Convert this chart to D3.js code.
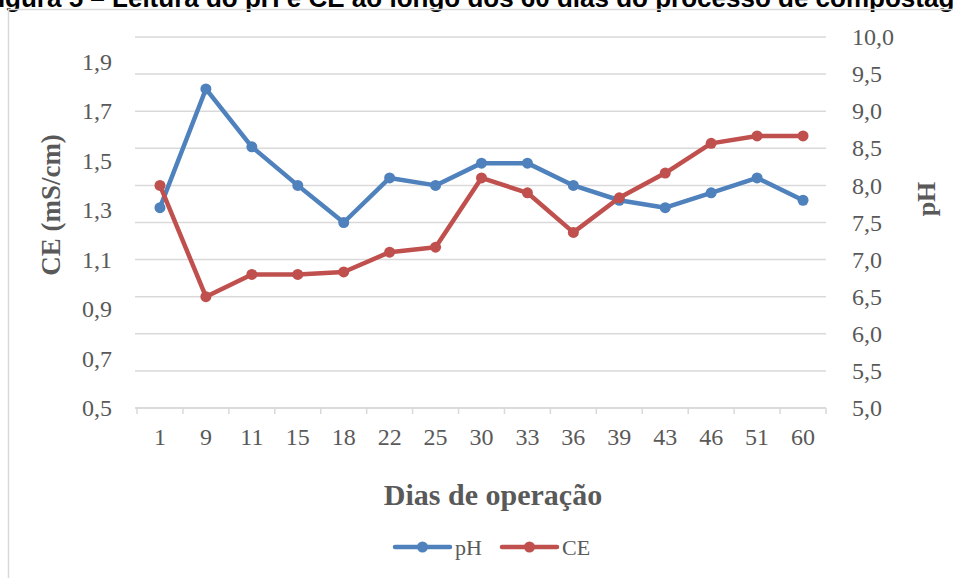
<!DOCTYPE html>
<html>
<head>
<meta charset="utf-8">
<script src="https://cdn.jsdelivr.net/npm/d3@7/dist/d3.min.js"></script>
<style>
  html, body { margin: 0; padding: 0; background: #fff; overflow: hidden; }
  svg { display: block; }
  .axis path, .axis line { display: none; }
  .axis text { font-family: "Liberation Serif", "DejaVu Serif", serif; font-size: 24px; fill: #595959; }
</style>
</head>
<body>
<svg id="chart" width="953" height="578"></svg>
<script>
// Days of operation (x categories)
const days = ["1", "9", "11", "15", "18", "22", "25", "30", "33", "36", "39", "43", "46", "51", "60"];
// pH readings (right axis)
const phValues = [7.7, 9.3, 8.52, 8.0, 7.5, 8.1, 8.0, 8.3, 8.3, 8.0, 7.8, 7.7, 7.9, 8.1, 7.8];
// Electrical conductivity CE in mS/cm (left axis)
const ceValues = [1.40, 0.95, 1.04, 1.04, 1.05, 1.13, 1.15, 1.43, 1.37, 1.21, 1.35, 1.45, 1.57, 1.60, 1.60];
// Axis ticks
const ceTicks = [0.5, 0.7, 0.9, 1.1, 1.3, 1.5, 1.7, 1.9];
const phTicks = [5.0, 5.5, 6.0, 6.5, 7.0, 7.5, 8.0, 8.5, 9.0, 9.5, 10.0];
const seriesNames = ["pH", "CE"];
const seriesColors = ["#4f81bd", "#c0504d"];

const svg = d3.select("#chart");
const locale = d3.formatLocale({ decimal: ",", thousands: ".", grouping: [3], currency: ["", ""] });
const fmt1 = locale.format(".1f");

const plotLeft = 137, plotRight = 826, plotTop = 37, plotBottom = 408;

const x = d3.scaleBand().domain(days).range([plotLeft, plotRight]);
const yCE = d3.scaleLinear().domain([0.5, 2.0]).range([plotBottom, plotTop]);
const yPH = d3.scaleLinear().domain([5.0, 10.0]).range([plotBottom, plotTop]);

// Caption above the chart
svg.append("text")
  .attr("x", -18).attr("y", 7)
  .attr("font-family", "'Liberation Sans', Arial, sans-serif")
  .attr("font-weight", "bold")
  .attr("font-size", 26)
  .attr("fill", "#000")
  .text("Figura 5 – Leitura do pH e CE ao longo dos 60 dias do processo  de compostagem");

// Chart frame
svg.append("rect")
  .attr("x", 8.5).attr("y", 9.5)
  .attr("width", 960).attr("height", 600)
  .attr("fill", "none").attr("stroke", "#d9d9d9").attr("stroke-width", 1.5);

// Horizontal gridlines (follow the pH axis)
svg.append("g").selectAll("line").data(phTicks).join("line")
  .attr("x1", plotLeft - 2).attr("x2", plotRight)
  .attr("y1", d => yPH(d)).attr("y2", d => yPH(d))
  .attr("stroke", "#d9d9d9").attr("stroke-width", 1.5);

// Category axis line and tick marks
svg.append("line")
  .attr("x1", plotLeft - 2).attr("x2", plotRight)
  .attr("y1", plotBottom).attr("y2", plotBottom)
  .attr("stroke", "#d9d9d9").attr("stroke-width", 1.5);
const bounds = days.map(d => x(d)).concat([x(days[days.length - 1]) + x.bandwidth()]);
svg.append("g").selectAll("line").data(bounds).join("line")
  .attr("x1", d => d).attr("x2", d => d)
  .attr("y1", plotBottom).attr("y2", plotBottom + 6)
  .attr("stroke", "#d9d9d9").attr("stroke-width", 1.5);

// Axes
svg.append("g").attr("class", "axis")
  .attr("transform", `translate(0,${plotBottom})`)
  .call(d3.axisBottom(x).tickSize(0).tickPadding(20));

svg.append("g").attr("class", "axis")
  .attr("transform", `translate(135,0)`)
  .call(d3.axisLeft(yCE).tickValues(ceTicks).tickFormat(fmt1).tickSize(0).tickPadding(23));

svg.append("g").attr("class", "axis")
  .attr("transform", `translate(${plotRight},0)`)
  .call(d3.axisRight(yPH).tickValues(phTicks).tickFormat(fmt1).tickSize(0).tickPadding(26));

// Axis titles
const titleFont = "'Liberation Serif', 'DejaVu Serif', serif";
svg.append("text")
  .attr("transform", "translate(60,205) rotate(-90)")
  .attr("text-anchor", "middle")
  .attr("font-family", titleFont).attr("font-weight", "bold").attr("font-size", 27)
  .attr("fill", "#595959")
  .text("CE (mS/cm)");

svg.append("text")
  .attr("transform", "translate(935,199) rotate(-90)")
  .attr("text-anchor", "middle")
  .attr("font-family", titleFont).attr("font-weight", "bold").attr("font-size", 26)
  .attr("fill", "#595959")
  .text("pH");

svg.append("text")
  .attr("x", 493).attr("y", 505)
  .attr("text-anchor", "middle")
  .attr("font-family", titleFont).attr("font-weight", "bold").attr("font-size", 30)
  .attr("fill", "#595959")
  .text("Dias de operação");

// Series
const cx = d => x(d) + x.bandwidth() / 2;
const series = [
  { name: seriesNames[0], values: phValues, y: yPH, color: seriesColors[0] },
  { name: seriesNames[1], values: ceValues, y: yCE, color: seriesColors[1] }
];

series.forEach(s => {
  const pts = days.map((d, i) => [cx(d), s.y(s.values[i])]);
  svg.append("path")
    .attr("d", d3.line()(pts))
    .attr("fill", "none").attr("stroke", s.color)
    .attr("stroke-width", 4.5).attr("stroke-linejoin", "round").attr("stroke-linecap", "round");
  svg.append("g").selectAll("circle").data(pts).join("circle")
    .attr("cx", p => p[0]).attr("cy", p => p[1]).attr("r", 5.5)
    .attr("fill", s.color);
});

// Legend
const legendX = [395, 502];
series.forEach((s, i) => {
  const g = svg.append("g").attr("transform", `translate(${legendX[i]},547)`);
  g.append("line").attr("x1", 0).attr("x2", 55).attr("y1", 0).attr("y2", 0)
    .attr("stroke", s.color).attr("stroke-width", 4.5).attr("stroke-linecap", "round");
  g.append("circle").attr("cx", 27.5).attr("cy", 0).attr("r", 5.5).attr("fill", s.color);
  g.append("text").attr("x", 60).attr("y", 8)
    .attr("font-family", titleFont).attr("font-size", 22).attr("fill", "#595959")
    .text(s.name);
});
</script>
</body>
</html>
